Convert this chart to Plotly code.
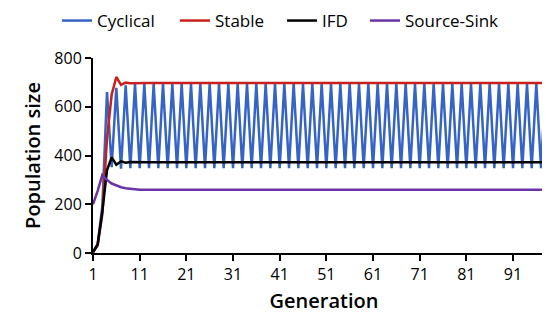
import plotly.graph_objects as go

generations = list(range(1, 101))

cyclical = [4, 38, 190, 660, 352, 678, 346, 688,
            348, 694, 348, 694, 348, 694, 348, 694, 348, 694, 348, 694,
            348, 694, 348, 694, 348, 694, 348, 694, 348, 694, 348, 694,
            348, 694, 348, 694, 348, 694, 348, 694, 348, 694, 348, 694,
            348, 694, 348, 694, 348, 694, 348, 694, 348, 694, 348, 694,
            348, 694, 348, 694, 348, 694, 348, 694, 348, 694, 348, 694,
            348, 694, 348, 694, 348, 694, 348, 694, 348, 694, 348, 694,
            348, 694, 348, 694, 348, 694, 348, 694, 348, 694, 348, 694,
            348, 694, 348, 694, 348, 694, 348, 694]

stable = [3, 32, 160, 470, 650, 722, 690, 699, 696,
          697, 697, 697, 697, 697, 697, 697, 697, 697, 697, 697,
          697, 697, 697, 697, 697, 697, 697, 697, 697, 697, 697,
          697, 697, 697, 697, 697, 697, 697, 697, 697, 697, 697,
          697, 697, 697, 697, 697, 697, 697, 697, 697, 697, 697,
          697, 697, 697, 697, 697, 697, 697, 697, 697, 697, 697,
          697, 697, 697, 697, 697, 697, 697, 697, 697, 697, 697,
          697, 697, 697, 697, 697, 697, 697, 697, 697, 697, 697,
          697, 697, 697, 697, 697, 697, 697, 697, 697, 697, 697,
          697]

ifd = [3, 35, 170, 340, 392, 362, 376, 370, 373,
       372, 372, 372, 372, 372, 372, 372, 372, 372, 372, 372,
       372, 372, 372, 372, 372, 372, 372, 372, 372, 372, 372,
       372, 372, 372, 372, 372, 372, 372, 372, 372, 372, 372,
       372, 372, 372, 372, 372, 372, 372, 372, 372, 372, 372,
       372, 372, 372, 372, 372, 372, 372, 372, 372, 372, 372,
       372, 372, 372, 372, 372, 372, 372, 372, 372, 372, 372,
       372, 372, 372, 372, 372, 372, 372, 372, 372, 372, 372,
       372, 372, 372, 372, 372, 372, 372, 372, 372, 372, 372,
       372]

source_sink = [200, 255, 320, 300, 285, 276, 270, 266, 263, 261,
               260, 260, 260, 260, 260, 260, 260, 260, 260, 260,
               260, 260, 260, 260, 260, 260, 260, 260, 260, 260,
               260, 260, 260, 260, 260, 260, 260, 260, 260, 260,
               260, 260, 260, 260, 260, 260, 260, 260, 260, 260,
               260, 260, 260, 260, 260, 260, 260, 260, 260, 260,
               260, 260, 260, 260, 260, 260, 260, 260, 260, 260,
               260, 260, 260, 260, 260, 260, 260, 260, 260, 260,
               260, 260, 260, 260, 260, 260, 260, 260, 260, 260,
               260, 260, 260, 260, 260, 260, 260, 260, 260, 260]

x_tick_vals = [1, 11, 21, 31, 41, 51, 61, 71, 81, 91]
y_tick_vals = [0, 200, 400, 600, 800]

series_names = ["Cyclical", "Stable", "IFD", "Source-Sink"]
series_values = [cyclical, stable, ifd, source_sink]
series_colors = ["#3563C6", "#C8201E", "#000000", "#6A33A6"]
legend_ids = ["legend", "legend2", "legend3", "legend4"]
legend_x = [49, 167, 274, 357]  # left edge of each legend entry, px

W, H = 550, 320
fig = go.Figure()
for name, vals, color, lid in zip(series_names, series_values, series_colors, legend_ids):
    fig.add_trace(go.Scatter(x=generations, y=vals, mode="lines", name=name,
                             legend=lid, line=dict(color=color, width=2.5)))

font_family = "Open Sans"
layout_legends = {}
for lid, lx in zip(legend_ids, legend_x):
    layout_legends[lid] = dict(
        orientation="h", xref="container", yref="container",
        x=lx / W, xanchor="left", y=1 - 13 / H, yanchor="middle",
        font=dict(size=17, family=font_family, color="black"),
        bgcolor="rgba(0,0,0,0)", borderwidth=0, itemwidth=30,
    )

fig.update_layout(
    width=W, height=H,
    margin=dict(l=85, r=3, t=50, b=75),
    paper_bgcolor="white", plot_bgcolor="white",
    font=dict(family=font_family, size=16, color="black"),
    showlegend=True,
    **layout_legends,
)
fig.update_xaxes(
    range=[1, 100], tickvals=x_tick_vals, ticktext=[str(v) for v in x_tick_vals],
    showgrid=False, zeroline=False, showline=True, linecolor="black", linewidth=2,
    ticks="outside", ticklen=6, tickwidth=2, tickcolor="black",
    tickfont=dict(size=16),
    title=dict(text="Generation", font=dict(size=20, weight=600), standoff=10),
)
fig.update_yaxes(
    range=[0, 800], tickvals=y_tick_vals,
    showgrid=False, zeroline=False, showline=True, linecolor="black", linewidth=2,
    ticks="outside", ticklen=6, tickwidth=2, tickcolor="black",
    tickfont=dict(size=16),
    title=dict(text="Population size", font=dict(size=20, weight=600), standoff=8),
)

fig.write_html("out.html")
